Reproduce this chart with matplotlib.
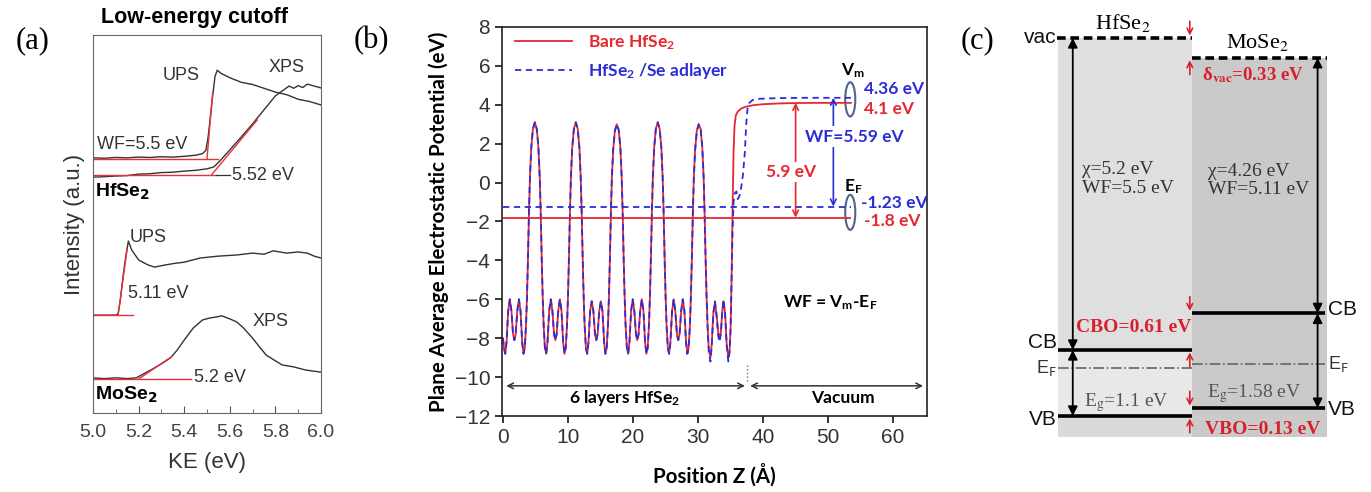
import numpy as np
import matplotlib.pyplot as plt
from matplotlib.patches import Ellipse, Rectangle
from matplotlib.ticker import MultipleLocator

plt.rcParams['font.family'] = 'Liberation Sans'
plt.rcParams['mathtext.fontset'] = 'custom'
plt.rcParams['mathtext.rm'] = 'Lato'
plt.rcParams['mathtext.bf'] = 'Lato:bold'
plt.rcParams['mathtext.it'] = 'Lato:italic'

# ---------------- (a) low-energy cutoff spectra ----------------
ke_hf_ups = [5.00, 5.05, 5.10, 5.15, 5.20, 5.25, 5.30, 5.35, 5.40, 5.45, 5.48, 5.495, 5.505,
             5.515, 5.525, 5.535, 5.545, 5.56, 5.60, 5.65, 5.70, 5.75, 5.80, 5.85, 5.90, 5.95, 6.00]
int_hf_ups = [67.5, 67.4, 67.6, 67.5, 67.7, 67.6, 67.8, 67.7, 67.9, 68.2, 68.6, 69.5, 73.0,
              78.5, 84.0, 89.0, 90.7, 89.9, 88.7, 87.5, 86.9, 85.9, 84.9, 84.2, 83.0, 82.4, 81.5]
ke_hf_xps = [5.00, 5.05, 5.10, 5.15, 5.20, 5.25, 5.30, 5.35, 5.40, 5.45, 5.50, 5.53, 5.56, 5.60,
             5.65, 5.70, 5.75, 5.80, 5.83, 5.86, 5.88, 5.90, 5.92, 5.94, 5.97, 6.00]
int_hf_xps = [62.4, 62.5, 62.7, 62.8, 63.2, 63.3, 63.6, 63.7, 64.0, 64.2, 64.6, 65.1, 66.9, 69.6,
              73.0, 76.5, 80.2, 83.9, 85.2, 86.5, 85.9, 86.6, 86.1, 87.0, 86.5, 86.0]
ke_mo_ups = [5.00, 5.05, 5.10, 5.11, 5.12, 5.13, 5.14, 5.155, 5.17, 5.20, 5.24, 5.27, 5.32, 5.36,
             5.40, 5.47, 5.55, 5.63, 5.70, 5.75, 5.79, 5.85, 5.90, 5.94, 5.97, 6.00]
int_mo_ups = [25.9, 25.9, 25.9, 26.2, 29.9, 35.2, 39.9, 45.5, 43.1, 40.5, 39.2, 38.6, 39.2, 39.6,
              39.9, 41.0, 41.5, 41.8, 42.3, 42.0, 42.9, 42.3, 42.6, 42.3, 41.5, 41.0]
ke_mo_xps = [5.00, 5.05, 5.10, 5.15, 5.19, 5.22, 5.26, 5.30, 5.34, 5.37, 5.40, 5.44, 5.48, 5.51,
             5.54, 5.565, 5.60, 5.63, 5.66, 5.70, 5.73, 5.76, 5.80, 5.83, 5.88, 5.93, 6.00]
int_mo_xps = [9.3, 9.1, 9.3, 9.1, 9.3, 10.3, 11.6, 13.0, 14.6, 16.7, 19.3, 22.5, 24.6, 25.1,
              25.4, 25.7, 24.9, 24.1, 22.5, 19.8, 17.5, 15.3, 13.8, 12.7, 12.2, 11.4, 10.8]

# cutoff values and linear fits (baseline level, end point of the edge fit)
cut_hf_ups, base_hf_ups, edge_hf_ups = 5.50, 67.3, (5.525, 84.9)
cut_hf_xps, base_hf_xps, edge_hf_xps = 5.52, 63.0, (5.72, 77.5)
cut_mo_ups, base_mo_ups, edge_mo_ups = 5.11, 25.9, (5.15, 43.5)
cut_mo_xps, base_mo_xps, edge_mo_xps = 5.20, 9.0, (5.345, 14.9)

# ---------------- (b) plane-averaged potential ----------------
z_slab = [0.0, 0.15, 0.35, 0.55, 0.8, 1.05, 1.3, 1.55, 1.75, 1.95, 2.2, 2.45, 2.7, 2.95, 3.15,
          3.35, 3.55, 3.7, 3.85, 4.0, 4.15, 4.35, 4.6, 4.9,
          5.2, 5.45, 5.65, 5.8, 5.95, 6.1, 6.25, 6.45, 6.65, 6.85, 7.1, 7.35, 7.6, 7.85, 8.05,
          8.25, 8.5, 8.75, 9.0, 9.25, 9.45, 9.65, 9.85, 10.0, 10.15, 10.3, 10.45, 10.65, 10.9, 11.2,
          11.5, 11.75, 11.95, 12.1, 12.25, 12.4, 12.55, 12.75, 12.95, 13.15, 13.4, 13.65, 13.9,
          14.15, 14.35, 14.55, 14.8, 15.05, 15.3, 15.55, 15.75, 15.95, 16.15, 16.3, 16.45, 16.6,
          16.75, 16.95, 17.2, 17.5,
          17.8, 18.05, 18.25, 18.4, 18.55, 18.7, 18.85, 19.05, 19.25, 19.45, 19.7, 19.95, 20.2,
          20.45, 20.65, 20.85, 21.1, 21.35, 21.6, 21.85, 22.05, 22.25, 22.45, 22.6, 22.75, 22.9,
          23.05, 23.25, 23.5, 23.8,
          24.1, 24.35, 24.55, 24.7, 24.85, 25.0, 25.15, 25.35, 25.55, 25.75, 26.0, 26.25, 26.5,
          26.75, 26.95, 27.15, 27.4, 27.65, 27.9, 28.15, 28.35, 28.55, 28.75, 28.9, 29.05, 29.2,
          29.35, 29.55, 29.8, 30.1]
v_slab = [-8.0, -8.5, -8.8, -8.2, -6.6, -6.0, -6.6, -7.8, -8.1, -7.8, -6.6, -6.0, -6.6, -8.2, -8.8,
          -8.5, -7.3, -5.8, -3.8, -1.5, 0.3, 1.8, 2.75, 3.1,
          2.75, 1.8, 0.3, -1.5, -3.8, -5.8, -7.3, -8.5, -8.8, -8.2, -6.6, -6.0, -6.6, -7.8, -8.1,
          -7.8, -6.6, -6.0, -6.6, -8.2, -8.8, -8.5, -7.3, -5.8, -3.8, -1.5, 0.3, 1.8, 2.75, 3.1,
          2.75, 1.8, 0.3, -1.5, -3.8, -5.8, -7.3, -8.5, -8.8, -8.2, -6.6, -6.1, -6.6,
          -7.8, -8.1, -7.8, -6.6, -6.1, -6.6, -8.2, -8.8, -8.5, -7.3, -5.8, -3.8, -1.5,
          0.3, 1.7, 2.65, 3.0,
          2.7, 1.8, 0.3, -1.5, -3.8, -5.8, -7.3, -8.5, -8.8, -8.2, -6.6, -6.0, -6.6,
          -7.8, -8.1, -7.8, -6.6, -6.0, -6.6, -8.2, -8.8, -8.5, -7.3, -5.8, -3.8, -1.5,
          0.3, 1.8, 2.75, 3.1,
          2.75, 1.8, 0.3, -1.5, -3.8, -5.8, -7.3, -8.5, -8.8, -8.2, -6.6, -6.0, -6.6,
          -7.8, -8.1, -7.8, -6.6, -6.0, -6.6, -8.2, -8.8, -8.5, -7.3, -5.8, -3.8, -1.5,
          0.3, 1.7, 2.65, 3.0]

# surface layer and vacuum side, bare slab
z_bare_tail = [30.4, 30.65, 30.85, 31.0, 31.15, 31.3, 31.45, 31.65, 31.9, 32.1, 32.35, 32.6, 32.85,
               33.1, 33.3, 33.5, 33.7, 33.9, 34.15, 34.4, 34.65, 34.85, 35.0, 35.15, 35.3, 35.45,
               35.6, 35.8, 36.1, 36.6, 37.3, 38.5, 40.0, 42.5, 45.0, 48.0, 53.5]
v_bare_tail = [2.75, 1.8, 0.3, -1.5, -3.8, -5.8, -7.3, -8.6, -9.0, -8.3, -6.7, -6.15, -6.8,
               -7.7, -8.0, -7.7, -6.7, -6.1, -6.7, -8.3, -9.0, -8.6, -7.5, -5.0, -1.5, 1.5,
               2.9, 3.45, 3.65, 3.8, 3.9, 3.98, 4.03, 4.07, 4.09, 4.1, 4.1]
# surface layer and vacuum side, Se adlayer
z_ad_tail = [30.4, 30.65, 30.85, 31.0, 31.15, 31.3, 31.45, 31.65, 31.9, 32.1, 32.35, 32.6, 32.85,
             33.1, 33.3, 33.5, 33.7, 33.9, 34.15, 34.4, 34.65, 34.85, 35.0, 35.15, 35.3, 35.45,
             35.65, 35.9, 36.1, 36.35, 36.6, 36.9, 37.2, 37.4, 37.6, 37.9, 38.4, 39.5, 42.0,
             46.0, 53.5]
v_ad_tail = [2.75, 1.8, 0.3, -1.5, -3.8, -5.8, -7.3, -8.7, -9.2, -8.4, -6.7, -6.1, -6.9,
             -7.9, -8.2, -7.8, -6.7, -6.0, -6.7, -8.4, -9.2, -8.7, -7.5, -5.0, -2.5, -1.0,
             -0.55, -0.45, -0.85, -0.7, -0.3, 0.4, 1.6, 3.0, 3.8, 4.1, 4.25, 4.31, 4.34,
             4.36, 4.36]

ef_bare, ef_ad = -1.8, -1.23
vm_bare, vm_ad = 4.1, 4.36
slab_edge = 37.5

# ---------------- (c) band alignment ----------------
vac_hf = 0.0
chi_hf, wf_hf, eg_hf = 5.2, 5.5, 1.1
chi_mo, wf_mo, eg_mo = 4.26, 5.11, 1.58
d_vac = 0.33

red = '#e8262e'
blue = '#2c2cd8'
dark = '#333333'

fig = plt.figure(figsize=(13.71, 4.92), dpi=100)
W, H = 1371.0, 492.0

# ======================= panel (a) =======================
axa = fig.add_axes([93 / W, 79 / H, 228 / W, 378 / H])
for k, i in [(ke_hf_ups, int_hf_ups), (ke_hf_xps, int_hf_xps),
             (ke_mo_ups, int_mo_ups), (ke_mo_xps, int_mo_xps)]:
    axa.plot(k, i, color=dark, lw=1.0)

fitc = '#e8303a'
for cut, base, edge, base_end in [(cut_hf_ups, base_hf_ups, edge_hf_ups, 5.55),
                                  (cut_hf_xps, base_hf_xps, edge_hf_xps, 5.54),
                                  (cut_mo_ups, base_mo_ups, edge_mo_ups, 5.175),
                                  (cut_mo_xps, base_mo_xps, edge_mo_xps, 5.43)]:
    axa.plot([5.0, base_end], [base, base], color=fitc, lw=1.0)
    axa.plot([cut, edge[0]], [base, edge[1]], color=fitc, lw=1.0)
axa.plot([5.54, 5.60], [base_hf_xps, base_hf_xps], color=dark, lw=0.9)

fs_a = 13
axa.text(5.018, 70.9, f'WF={cut_hf_ups} eV', fontsize=fs_a, color=dark, va='center')
axa.text(5.61, 62.7, f'{cut_hf_xps} eV', fontsize=fs_a, color=dark, va='center')
axa.text(5.305, 89.4, 'UPS', fontsize=fs_a, color=dark, va='center')
axa.text(5.77, 91.3, 'XPS', fontsize=fs_a, color=dark, va='center')
axa.text(5.01, 58.5, r'HfSe$_\mathbf{2}$', fontsize=14, fontweight='bold', va='center',
         math_fontfamily='dejavusans')
axa.text(5.16, 46.3, 'UPS', fontsize=fs_a, color=dark, va='center')
axa.text(5.155, 31.7, f'{cut_mo_ups} eV', fontsize=fs_a, color=dark, va='center')
axa.text(5.70, 24.1, 'XPS', fontsize=fs_a, color=dark, va='center')
axa.text(5.445, 9.5, f'{cut_mo_xps} eV', fontsize=fs_a, color=dark, va='center')
axa.text(5.01, 4.8, r'MoSe$_\mathbf{2}$', fontsize=14, fontweight='bold', va='center',
         math_fontfamily='dejavusans')

axa.set_xlim(5.0, 6.0)
axa.set_ylim(0, 100)
axa.set_xticks([5.0, 5.2, 5.4, 5.6, 5.8, 6.0])
axa.xaxis.set_minor_locator(MultipleLocator(0.1))
axa.set_yticks([])
axa.tick_params(axis='x', which='both', direction='in', labelsize=14, labelcolor='#444',
                color='#555', pad=8)
axa.tick_params(axis='x', which='major', length=5)
axa.tick_params(axis='x', which='minor', length=3)
for s in axa.spines.values():
    s.set_color('#666')
axa.set_xlabel('KE (eV)', fontsize=16, color='#333', labelpad=8)
axa.set_ylabel('Intensity (a.u.)', fontsize=16, color='#333', labelpad=6)
fig.text(195 / W, 1 - 18 / H, 'Low-energy cutoff', ha='center', va='center',
         fontsize=15.5, fontweight='bold')

# ======================= panel (b) =======================
axb = fig.add_axes([502 / W, 76 / H, 425 / W, 389 / H])
lb, = axb.plot(z_slab + z_bare_tail, v_slab + v_bare_tail, color=red, lw=1.3,
               label=r'Bare HfSe$_\mathbf{2}$')
la, = axb.plot(z_slab + z_ad_tail, v_slab + v_ad_tail, color=blue, lw=1.3,
               ls=(0, (3.5, 2.5)), label=r'HfSe$_\mathbf{2}$ /Se adlayer')
axb.hlines(ef_bare, 0, 53.5, color=red, lw=1.3)
axb.hlines(ef_ad, 0, 53.5, color=blue, lw=1.3, linestyles=(0, (3.5, 2.5)))

bfont = dict(fontfamily='Lato', fontweight='bold', fontsize=12.5)
leg = axb.legend(handles=[lb, la], loc='upper left', bbox_to_anchor=(0.03, 0.985),
                 frameon=False, handlelength=3.3, handletextpad=0.9, labelspacing=0.55,
                 borderpad=0, borderaxespad=0,
                 prop=dict(family='Lato', weight='bold', size=12.5))
for t, c in zip(leg.get_texts(), [red, blue]):
    t.set_color(c)

ell = '#50648a'
axb.add_patch(Ellipse((53.4, 4.28), 1.55, 1.76, fill=False, ec=ell, lw=1.5))
axb.add_patch(Ellipse((53.4, -1.53), 1.55, 1.8, fill=False, ec=ell, lw=1.5))
axb.text(53.8, 5.75, r'V$_\mathbf{m}$', ha='center', va='center', **bfont)
axb.text(53.8, -0.2, r'E$_\mathbf{F}$', ha='center', va='center', **bfont)
axb.text(55.5, 4.8, f'{vm_ad:.2f} eV', color=blue, va='center', **bfont)
axb.text(55.5, 3.76, f'{vm_bare:.1f} eV', color=red, va='center', **bfont)
axb.text(55.1, -1.04, f'{ef_ad:.2f} eV', color=blue, va='center', **bfont)
axb.text(55.5, -1.95, f'{ef_bare:.1f} eV', color=red, va='center', **bfont)

axb.annotate('', xy=(45, vm_bare), xytext=(45, ef_bare),
             arrowprops=dict(arrowstyle='<->', color=red, lw=1.2, shrinkA=0, shrinkB=0))
axb.text(44.3, 0.56, f'{vm_bare - ef_bare:.1f} eV', color=red, ha='center', va='center',
         bbox=dict(fc='white', ec='none', pad=1.5), **bfont)
axb.annotate('', xy=(50.8, vm_ad), xytext=(50.8, ef_ad),
             arrowprops=dict(arrowstyle='<->', color=blue, lw=1.2, shrinkA=0, shrinkB=0))
axb.text(54.0, 2.37, f'WF={vm_ad - ef_ad:.2f} eV', color=blue, ha='center', va='center',
         bbox=dict(fc='white', ec='none', pad=1.5), **bfont)
axb.text(50.3, -6.16, r'WF = V$_\mathbf{m}$-E$_\mathbf{F}$', ha='center', va='center', **bfont)

axb.annotate('', xy=(0.5, -10.45), xytext=(37.2, -10.45),
             arrowprops=dict(arrowstyle='<->', color=dark, lw=1.1, shrinkA=0, shrinkB=0))
axb.annotate('', xy=(38.0, -10.45), xytext=(64.6, -10.45),
             arrowprops=dict(arrowstyle='<->', color=dark, lw=1.1, shrinkA=0, shrinkB=0))
axb.plot([slab_edge, slab_edge], [-9.4, -10.3], ls=':', color='#777', lw=1)
axb.text(18.7, -11.1, r'6 layers HfSe$_\mathbf{2}$', ha='center', va='center', **bfont)
axb.text(52.3, -11.1, 'Vacuum', ha='center', va='center', **bfont)

axb.set_xlim(-0.15, 65.2)
axb.set_ylim(-12, 8)
axb.set_xticks(range(0, 61, 10))
axb.set_yticks(range(-12, 9, 2))
axb.tick_params(direction='out', length=5, labelsize=15, labelcolor='#333', width=1.1)
for s in axb.spines.values():
    s.set_color('#222')
    s.set_linewidth(1.2)
axb.set_xlabel('Position Z (Å)', fontfamily='Lato', fontweight='bold', fontsize=14.8,
               labelpad=12)
axb.set_ylabel('Plane Average Electrostatic Potential (eV)', fontfamily='Lato',
               fontweight='bold', fontsize=14.8, labelpad=4)

# ======================= panel (c) =======================
axc = fig.add_axes([1000 / W, 0, 371 / W, 1])
axc.set_xlim(-0.431, 2.327)
axc.set_ylim(-7.567, 0.633)
axc.axis('off')

vac_mo = vac_hf - d_vac
cb_hf, cb_mo = vac_hf - chi_hf, vac_mo - chi_mo
vb_hf, vb_mo = cb_hf - eg_hf, cb_mo - eg_mo
ef_hf, ef_mo = vac_hf - wf_hf, vac_mo - wf_mo
bottom = -6.65

axc.add_patch(Rectangle((0, cb_hf), 1, vac_hf - cb_hf, fc='#dfdfdf', ec='none'))
axc.add_patch(Rectangle((0, vb_hf), 1, cb_hf - vb_hf, fc='#e8e8e8', ec='none'))
axc.add_patch(Rectangle((0, bottom), 1, vb_hf - bottom, fc='#dadada', ec='none'))
axc.add_patch(Rectangle((1, bottom), 1, vac_mo - bottom, fc='#cacaca', ec='none'))

dash = (0, (2.4, 1.3))
axc.hlines(vac_hf, -0.01, 1.0, colors='k', lw=2.6, linestyles=dash)
axc.hlines(vac_mo, 1.0, 2.0, colors='k', lw=2.6, linestyles=dash)
axc.hlines([cb_hf, vb_hf], 0, 1.0, colors='k', lw=2.6)
axc.hlines([cb_mo, vb_mo], 1.0, 1.985, colors='k', lw=2.6)
axc.hlines(ef_hf, 0, 1.0, colors='#666', lw=1.2, linestyles='-.')
axc.hlines(ef_mo, 1.0, 1.985, colors='#666', lw=1.2, linestyles='-.')

ap = dict(arrowstyle='<|-|>', color='k', lw=1.3, mutation_scale=14, shrinkA=0, shrinkB=0)
for x, e1, e2 in [(0.11, vac_hf, cb_hf), (0.11, cb_hf, vb_hf),
                  (1.93, vac_mo, cb_mo), (1.93, cb_mo, vb_mo)]:
    axc.annotate('', xy=(x, e2), xytext=(x, e1), arrowprops=ap)

rc = '#d8202c'
rp = dict(arrowstyle='->', color=rc, lw=1.2, mutation_scale=10, shrinkA=0, shrinkB=0)
for e_to, sgn in [(vac_hf, 1), (vac_mo, -1), (cb_mo, 1), (cb_hf, -1), (vb_mo, 1), (vb_hf, -1)]:
    axc.annotate('', xy=(0.98, e_to + sgn * 0.04), xytext=(0.98, e_to + sgn * 0.28),
                 arrowprops=rp)

sans = dict(fontsize=15, color='#111')
axc.text(-0.01, vac_hf, 'vac', ha='right', va='center', **sans)
axc.text(-0.01, cb_hf + 0.13, 'CB', ha='right', va='center', **sans)
axc.text(-0.01, vb_hf - 0.06, 'VB', ha='right', va='center', **sans)
axc.text(-0.01, ef_hf, r'E$_\mathrm{F}$', ha='right', va='center', fontsize=13,
         color='#333', math_fontfamily='dejavusans')
axc.text(2.01, cb_mo + 0.06, 'CB', ha='left', va='center', **sans)
axc.text(2.01, vb_mo - 0.03, 'VB', ha='left', va='center', **sans)
axc.text(2.01, ef_mo, r'E$_\mathrm{F}$', ha='left', va='center', fontsize=13,
         color='#333', math_fontfamily='dejavusans')

serif = dict(fontfamily='Liberation Serif', math_fontfamily='stix')
axc.text(0.48, 0.25, r'HfSe$_2$', ha='center', va='center', fontsize=16, **serif)
axc.text(1.48, -0.07, r'MoSe$_2$', ha='center', va='center', fontsize=16, **serif)
axc.text(1.07, -0.62, r'δ$_{\mathbf{vac}}$=' + f'{d_vac} eV', color=rc, fontweight='bold',
         ha='left', va='center', fontsize=13.5, **serif)
axc.text(0.18, -2.35, f'χ={chi_hf} eV\nWF={wf_hf} eV', ha='left', va='center', fontsize=14,
         color='#333', linespacing=1.1, **serif)
axc.text(1.115, -2.38, f'χ={chi_mo} eV\nWF={wf_mo} eV', ha='left', va='center', fontsize=14,
         color='#333', linespacing=1.1, **serif)
axc.text(0.99, -4.82, f'CBO={cb_mo - cb_hf:.2f} eV', color=rc, fontweight='bold',
         ha='right', va='center', fontsize=14, **serif)
axc.text(1.09, -6.52, f'VBO={vb_mo - vb_hf:.2f} eV', color=rc, fontweight='bold',
         ha='left', va='center', fontsize=14, **serif)
axc.text(0.19, -6.07, r'E$_\mathrm{g}$=' + f'{eg_hf} eV', ha='left', va='center', fontsize=14,
         color='#555', **serif)
axc.text(1.11, -5.92, r'E$_\mathrm{g}$=' + f'{eg_mo} eV', ha='left', va='center', fontsize=14,
         color='#555', **serif)

for x, lab in [(33, '(a)'), (371, '(b)'), (978, '(c)')]:
    fig.text(x / W, 1 - 41 / H, lab, ha='center', va='center', fontsize=22,
             fontfamily='Liberation Serif')

fig.savefig('out.png', dpi=100)
